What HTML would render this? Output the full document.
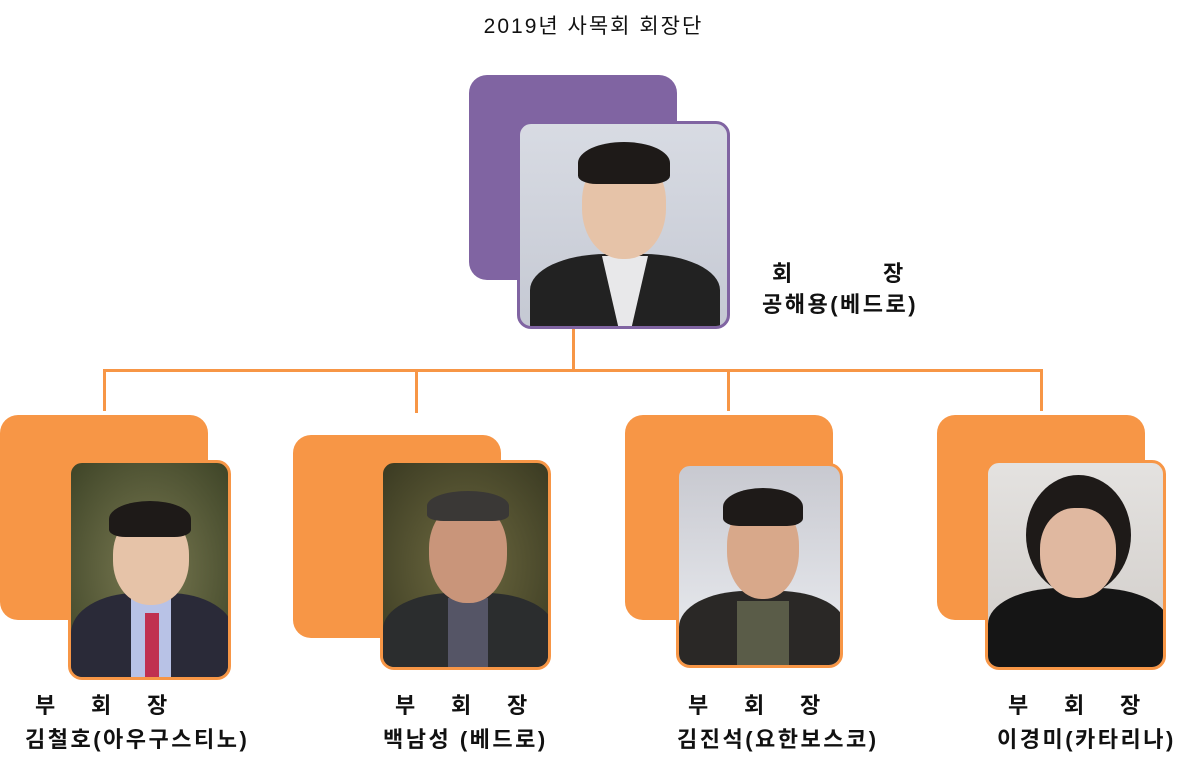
<!DOCTYPE html>
<html><head><meta charset="utf-8"><style>
body{margin:0;width:1187px;height:767px;background:#fff;position:relative;overflow:hidden;font-family:"Liberation Sans","Noto Sans CJK KR",sans-serif}
.a{position:absolute}
.bg{position:absolute;border-radius:18px}
.ph{position:absolute;border-radius:14px;overflow:hidden;box-sizing:border-box}
.head{position:absolute;border-radius:45% 45% 48% 48%;background:#e6c3a8}
.hair{position:absolute;border-radius:50% 50% 20% 20%;background:#1e1a18}
.suit{position:absolute;border-radius:40% 40% 0 0}
.lbl{position:absolute;font-weight:bold;font-size:22px;color:#111;white-space:pre;letter-spacing:2.5px}
.ttl{position:absolute;font-weight:bold;font-size:22px;color:#111}
.ln{position:absolute;background:#f79646}
</style></head><body>
<div class="a" style="left:0;width:1187px;top:10px;text-align:center;font-size:21px;letter-spacing:2px;color:#111">2019년 사목회 회장단</div>

<div class="bg" style="left:469px;top:75px;width:208px;height:205px;background:#8064a2"></div>
<div class="ph" style="left:517px;top:121px;width:213px;height:208px;border:3px solid #8064a2;background:linear-gradient(#d8dbe3,#c5c9d3)">
 <div class="suit" style="left:10px;top:130px;width:190px;height:90px;background:#222"></div>
 <div class="a" style="left:82px;top:132px;width:46px;height:80px;background:#e8e8ea;clip-path:polygon(0 0,100% 0,60% 100%,40% 100%)"></div>
 <div class="head" style="left:62px;top:30px;width:84px;height:105px"></div>
 <div class="hair" style="left:58px;top:18px;width:92px;height:42px"></div>
</div>
<div class="ttl" style="left:772px;top:256px">회</div>
<div class="ttl" style="left:883px;top:256px">장</div>
<div class="lbl" style="left:762px;top:287px">공해용(베드로)</div>

<div class="ln" style="left:572px;top:329px;width:3px;height:42px"></div>
<div class="ln" style="left:103px;top:369px;width:940px;height:3px"></div>
<div class="ln" style="left:103px;top:369px;width:3px;height:42px"></div>
<div class="ln" style="left:415px;top:369px;width:3px;height:44px"></div>
<div class="ln" style="left:727px;top:369px;width:3px;height:42px"></div>
<div class="ln" style="left:1040px;top:369px;width:3px;height:42px"></div>

<!-- 1 -->
<div class="bg" style="left:0;top:415px;width:208px;height:205px;background:#f79646"></div>
<div class="ph" style="left:68px;top:460px;width:163px;height:220px;border:3px solid #f79646;background:radial-gradient(#7a7a52,#3e4427)">
 <div class="suit" style="left:0;top:130px;width:163px;height:100px;background:#2a2a38"></div>
 <div class="a" style="left:60px;top:135px;width:40px;height:90px;background:#b8c2e6"></div>
 <div class="a" style="left:74px;top:150px;width:14px;height:75px;background:#c03050"></div>
 <div class="head" style="left:42px;top:50px;width:76px;height:92px"></div>
 <div class="hair" style="left:38px;top:38px;width:82px;height:36px"></div>
</div>
<div class="ttl" style="left:35px;top:688px">부</div><div class="ttl" style="left:91px;top:688px">회</div><div class="ttl" style="left:147px;top:688px">장</div>
<div class="lbl" style="left:25px;top:722px">김철호(아우구스티노)</div>

<!-- 2 -->
<div class="bg" style="left:293px;top:435px;width:208px;height:203px;background:#f79646"></div>
<div class="ph" style="left:380px;top:460px;width:171px;height:210px;border:3px solid #f79646;background:radial-gradient(#6e6a40,#3a3a22)">
 <div class="suit" style="left:0;top:130px;width:171px;height:90px;background:#2b2d2e"></div>
 <div class="a" style="left:65px;top:135px;width:40px;height:80px;background:#556"></div>
 <div class="head" style="left:46px;top:40px;width:78px;height:100px;background:#c9957a"></div>
 <div class="hair" style="left:44px;top:28px;width:82px;height:30px;background:#3a3836"></div>
</div>
<div class="ttl" style="left:395px;top:688px">부</div><div class="ttl" style="left:451px;top:688px">회</div><div class="ttl" style="left:507px;top:688px">장</div>
<div class="lbl" style="left:383px;top:722px">백남성 (베드로)</div>

<!-- 3 -->
<div class="bg" style="left:625px;top:415px;width:208px;height:205px;background:#f79646"></div>
<div class="ph" style="left:676px;top:463px;width:167px;height:205px;border:3px solid #f79646;background:linear-gradient(#c8c9d0,#eceef2)">
 <div class="suit" style="left:0;top:125px;width:167px;height:90px;background:#2a2826"></div>
 <div class="a" style="left:58px;top:135px;width:52px;height:80px;background:#5a5c48"></div>
 <div class="head" style="left:48px;top:35px;width:72px;height:98px;background:#d8a88a"></div>
 <div class="hair" style="left:44px;top:22px;width:80px;height:38px"></div>
</div>
<div class="ttl" style="left:688px;top:688px">부</div><div class="ttl" style="left:744px;top:688px">회</div><div class="ttl" style="left:800px;top:688px">장</div>
<div class="lbl" style="left:677px;top:722px">김진석(요한보스코)</div>

<!-- 4 -->
<div class="bg" style="left:937px;top:415px;width:208px;height:205px;background:#f79646"></div>
<div class="ph" style="left:985px;top:460px;width:181px;height:210px;border:3px solid #f79646;background:linear-gradient(#e4e2e0,#d0ccc8)">
 <div class="hair" style="left:38px;top:12px;width:105px;height:120px;border-radius:50%"></div>
 <div class="suit" style="left:0;top:125px;width:181px;height:90px;background:#151515"></div>
 <div class="head" style="left:52px;top:45px;width:76px;height:90px;background:#e0b8a0"></div>
</div>
<div class="ttl" style="left:1008px;top:688px">부</div><div class="ttl" style="left:1064px;top:688px">회</div><div class="ttl" style="left:1120px;top:688px">장</div>
<div class="lbl" style="left:997px;top:722px">이경미(카타리나)</div>
</body></html>
